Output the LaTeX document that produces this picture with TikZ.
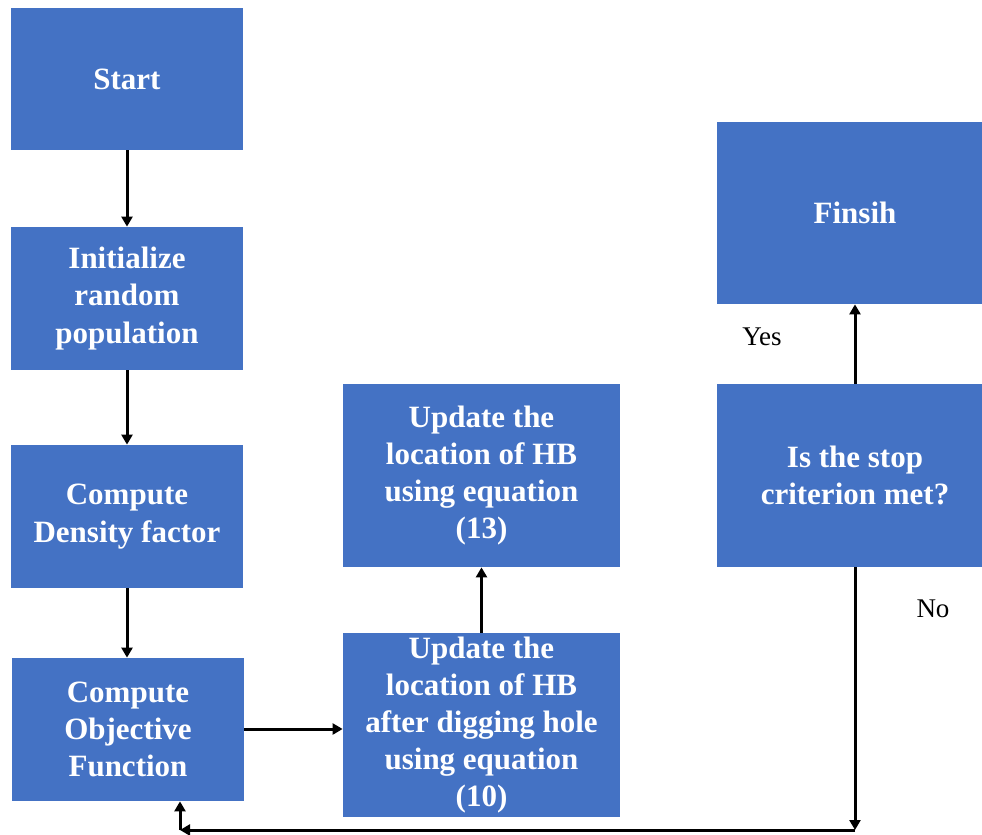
\documentclass[tikz,border=0pt]{standalone}
\usepackage{fontspec}
\setmainfont{Liberation Serif}
\usetikzlibrary{arrows.meta}
\definecolor{boxblue}{HTML}{4472C4}
\tikzset{
  procbox/.style={fill=boxblue, draw=none, inner sep=0pt, align=center,
    text=white, font=\fontsize{15.5pt}{18.6pt}\selectfont\bfseries},
  flow/.style={line width=1.5pt, -{Triangle[length=5pt,width=5.5pt]}},
  plain/.style={line width=1.5pt},
  answer/.style={font=\fontsize{13.5pt}{16pt}\selectfont, text=black}
}
\begin{document}
\begin{tikzpicture}[x=0.5pt, y=-0.5pt]
  \useasboundingbox (0,0) rectangle (982,835);
  \clip (0,0) rectangle (982,835);
  \fill[white] (0,0) rectangle (982,835);

  % left column
  \node[procbox, minimum width=116pt, minimum height=71pt]   (start) at (127,79)    {Start};
  \node[procbox, minimum width=116pt, minimum height=71.5pt] (init)  at (127,298.5) {Initialize\\random\\population};
  \node[procbox, minimum width=116pt, minimum height=71.5pt] (dens)  at (127,516.5) {Compute\\Density factor};
  \node[procbox, minimum width=116pt, minimum height=71.5pt] (obj)   at (128,729.5) {Compute\\Objective\\Function};

  % middle column
  \node[procbox, minimum width=138.5pt, minimum height=91.5pt] (upd13) at (481.5,475.5) {Update the\\location of HB\\using equation\\(13)};
  \node[procbox, minimum width=138.5pt, minimum height=92pt]   (upd10) at (481.5,725)   {Update the\\location of HB\\after digging hole\\using equation\\(10)};

  % right column
  \node[procbox, minimum width=138pt, minimum height=91pt]   (finish) at (855,213)   {Finsih};
  \node[procbox, minimum width=138pt, minimum height=91.5pt] (stop)   at (855,475.5) {Is the stop\\criterion met?};

  % labels of the decision
  \node[answer] (yes) at (762,337) {Yes};
  \node[answer] (no)  at (933,609) {No};

  % loop-back corners
  \coordinate (cr) at (855,830);
  \coordinate (cl) at (180,830);

  % connectors
  \draw[flow] (start.south) -- (init.north);
  \draw[flow] (init.south)  -- (dens.north);
  \draw[flow] (dens.south -| init.south) -- (obj.north -| init.south);
  \draw[flow] (obj.east |- 0,729) -- (upd10.west |- 0,729);
  \draw[flow] (upd10.north) -- (upd13.south);
  \draw[flow] (stop.north)  -- (finish.south);
  \draw[flow] (stop.south)  -- (cr);
  \draw[flow] (cr) -- (cl);
  \draw[flow] (cl) -- (cl |- obj.south);
\end{tikzpicture}
\end{document}
